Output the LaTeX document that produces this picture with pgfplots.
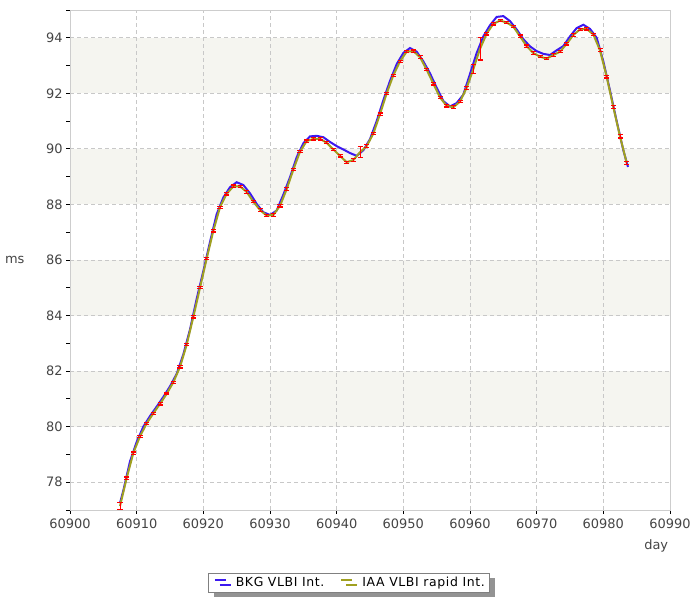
\documentclass[border=0pt]{standalone}
\usepackage{fontspec}
\setmainfont{DejaVu Sans}
\newfontfamily\legfont[LetterSpace=5]{DejaVu Sans}
\usepackage{pgfplots}
\usepackage{pgfplotstable}
\pgfplotsset{compat=1.18}
\usetikzlibrary{shadows}
\definecolor{bkg}{RGB}{60,25,240}
\definecolor{iaa}{RGB}{160,160,32}
\definecolor{band}{RGB}{245,245,240}
\definecolor{gridc}{RGB}{200,200,200}
\definecolor{axc}{RGB}{205,205,205}
\definecolor{lab}{RGB}{68,68,68}

\pgfplotstableread{
x y
60907.5 77.25
60908 77.7
60909 78.75
60910 79.45
60911 80.0
60912 80.38
60913 80.72
60914 81.07
60915 81.45
60916 81.9
60917 82.6
60918 83.5
60919 84.6
60920 85.6
60921 86.65
60922 87.65
60923 88.25
60924 88.62
60925 88.8
60926 88.7
60927 88.4
60928 88.02
60929 87.72
60930 87.62
60931 87.78
60932 88.35
60933 88.98
60934 89.7
60935 90.2
60936 90.45
60937 90.47
60938 90.42
60939 90.25
60940 90.1
60941 89.98
60942 89.85
60943 89.75
60944 89.95
60945 90.35
60946 91.0
60947 91.75
60948 92.45
60949 93.05
60950 93.45
60951 93.63
60952 93.5
60953 93.15
60954 92.72
60955 92.2
60956 91.72
60957 91.53
60958 91.65
60959 91.95
60960 92.7
60961 93.45
60962 94.05
60963 94.45
60964 94.75
60965 94.78
60966 94.6
60967 94.3
60968 93.95
60969 93.69
60970 93.52
60971 93.42
60972 93.38
60973 93.55
60974 93.7
60975 94.05
60976 94.35
60977 94.47
60978 94.32
60979 94.0
60980 93.15
60981 92.1
60982 91.0
60983 89.95
60983.7 89.35
}\bkgdata

\pgfplotstableread{
x y e
60907.5 77.14 0.13
60908.5 78.15 0.04
60909.5 79.05 0.04
60910.5 79.65 0.04
60911.5 80.12 0.03
60912.5 80.48 0.04
60913.5 80.82 0.04
60914.5 81.18 0.03
60915.5 81.6 0.04
60916.5 82.15 0.04
60917.5 82.95 0.04
60918.5 83.95 0.04
60919.5 85.0 0.04
60920.5 86.05 0.04
60921.5 87.05 0.04
60922.5 87.9 0.04
60923.5 88.38 0.04
60924.5 88.65 0.05
60925.5 88.65 0.04
60926.5 88.45 0.05
60927.5 88.1 0.04
60928.5 87.8 0.05
60929.5 87.6 0.04
60930.5 87.62 0.04
60931.5 87.95 0.04
60932.5 88.55 0.05
60933.5 89.25 0.04
60934.5 89.9 0.04
60935.5 90.28 0.04
60936.5 90.36 0.04
60937.5 90.36 0.04
60938.5 90.22 0.04
60939.5 89.98 0.04
60940.5 89.75 0.04
60941.5 89.52 0.04
60942.5 89.6 0.04
60943.5 89.88 0.2
60944.5 90.1 0.05
60945.5 90.55 0.04
60946.5 91.25 0.04
60947.5 92.0 0.04
60948.5 92.65 0.04
60949.5 93.15 0.04
60950.5 93.5 0.04
60951.5 93.52 0.04
60952.5 93.3 0.05
60953.5 92.85 0.04
60954.5 92.35 0.05
60955.5 91.85 0.04
60956.5 91.55 0.04
60957.5 91.5 0.05
60958.5 91.7 0.04
60959.5 92.2 0.05
60960.5 92.87 0.17
60961.5 93.6 0.4
60962.5 94.15 0.05
60963.5 94.5 0.04
60964.5 94.62 0.04
60965.5 94.55 0.04
60966.5 94.4 0.04
60967.5 94.05 0.05
60968.5 93.7 0.04
60969.5 93.45 0.05
60970.5 93.32 0.04
60971.5 93.25 0.04
60972.5 93.38 0.04
60973.5 93.5 0.04
60974.5 93.78 0.04
60975.5 94.1 0.04
60976.5 94.3 0.04
60977.5 94.32 0.04
60978.5 94.12 0.04
60979.5 93.55 0.05
60980.5 92.6 0.05
60981.5 91.5 0.06
60982.5 90.45 0.06
60983.5 89.5 0.05
}\iaadata

\begin{document}
\begin{tikzpicture}
\begin{axis}[
  set layers,
  scale only axis, width=600bp, height=500bp,
  xmin=60900, xmax=60990, ymin=77, ymax=95,
  xtick={60900,60910,60920,60930,60940,60950,60960,60970,60980,60990},
  ytick={78,80,82,84,86,88,90,92,94},
  minor ytick={77,79,81,83,85,87,89,91,93,95},
  scaled x ticks=false,
  /pgf/number format/1000 sep={},
  /pgf/number format/assume math mode=true,
  tick pos=left, tick align=outside,
  major tick length=4bp, minor tick length=4bp,
  every tick/.style={black, line width=0.8bp},
  axis line style={axc, line width=0.8bp},
  grid=major,
  major grid style={gridc, dash pattern=on 4bp off 3bp, line width=0.8bp},
  ticklabel style={font=\fontsize{13}{15}\selectfont, text=lab},
  xticklabel style={yshift=-1bp},
  xlabel={day}, ylabel={ms},
  xlabel style={at={(axis description cs:0.977,-0.072)}, anchor=center, font=\fontsize{13}{15}\selectfont, text=lab},
  ylabel style={at={(axis description cs:-0.092,0.5)}, rotate=-90, anchor=center, font=\fontsize{13}{15}\selectfont, text=lab},
  legend columns=2,
  legend style={at={(0.4655,-0.1254)}, anchor=north, draw=gray, line width=0.8bp,
    font=\legfont\fontsize{12.5}{14}\selectfont, inner xsep=5bp, inner ysep=4bp,
    nodes={inner sep=0bp},
    drop shadow={shadow xshift=5bp, shadow yshift=-5bp, fill=gray!85, opacity=1},
    /tikz/every odd column/.append style={column sep=9bp},
    /tikz/every even column/.append style={column sep=16bp}},
  legend image code/.code={\draw[#1, line width=2bp] (0bp,3bp) -- (11bp,3bp);},
]
\begin{pgfonlayer}{axis background}
\fill[band] (axis cs:60900,80) rectangle (axis cs:60990,82);
\fill[band] (axis cs:60900,84) rectangle (axis cs:60990,86);
\fill[band] (axis cs:60900,88) rectangle (axis cs:60990,90);
\fill[band] (axis cs:60900,92) rectangle (axis cs:60990,94);
\end{pgfonlayer}
\addplot[bkg, line width=2bp, no marks] table[x=x, y=y] {\bkgdata};
\addlegendentry{BKG VLBI Int.}
\addplot[iaa, line width=2bp, no marks,
  error bars/.cd, y dir=both, y explicit,
  error bar style={red, line width=1bp},
  error mark options={red, mark size=2.5bp, line width=1.2bp, rotate=90}]
  table[x=x, y=y, y error=e] {\iaadata};
\addlegendentry{IAA VLBI rapid Int.}
\end{axis}
\pgfresetboundingbox
\useasboundingbox (-70bp,-90bp) rectangle (630bp,510bp);
\end{tikzpicture}
\end{document}
